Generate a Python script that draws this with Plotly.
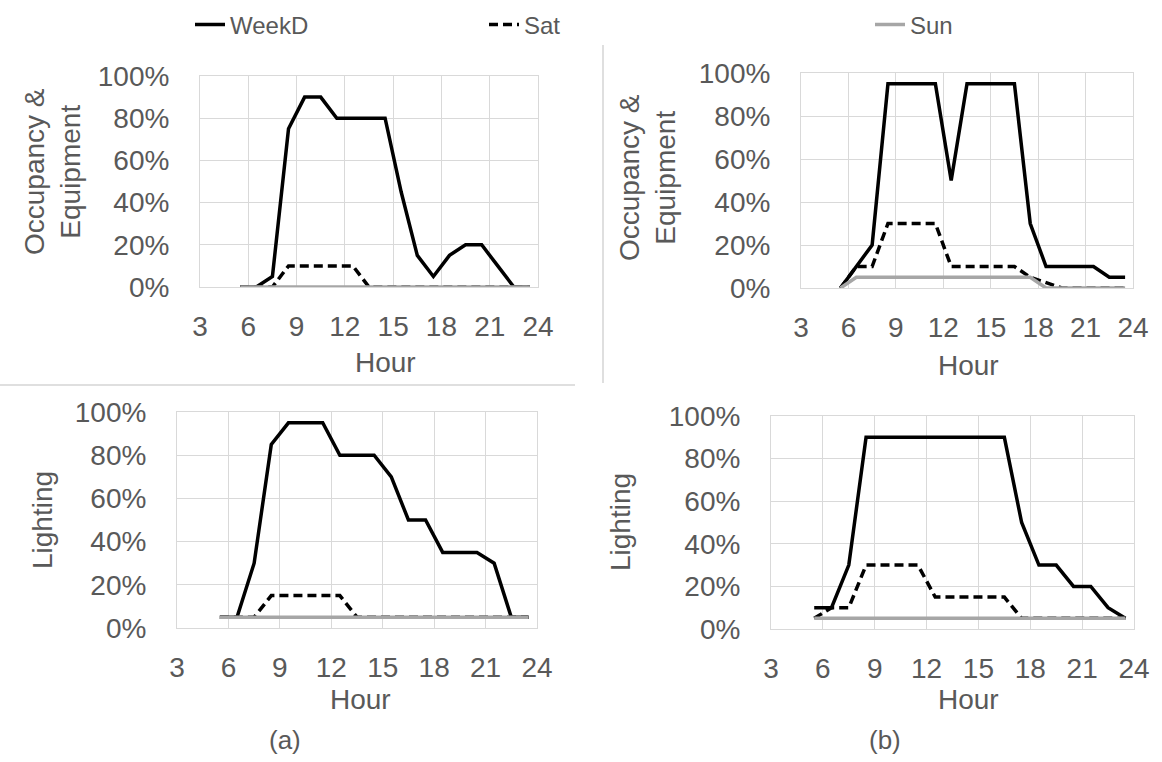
import plotly.graph_objects as go

# ---------------- data ----------------
HOURS = list(range(6, 25))            # hourly schedule values, hours 6..24
X_TICKS = [3, 6, 9, 12, 15, 18, 21, 24]
Y_TICKS = [0, 20, 40, 60, 80, 100]
Y_TICKTEXT = ["0%", "20%", "40%", "60%", "80%", "100%"]
SERIES = ["WeekD", "Sat", "Sun"]

# (a) Occupancy & Equipment
occ_a_weekd = [0, 0, 5, 75, 90, 90, 80, 80, 80, 80, 45, 15, 5, 15, 20, 20, 10, 0, 0]
occ_a_sat   = [0, 0, 0, 10, 10, 10, 10, 10, 0, 0, 0, 0, 0, 0, 0, 0, 0, 0, 0]
occ_a_sun   = [0, 0, 0, 0, 0, 0, 0, 0, 0, 0, 0, 0, 0, 0, 0, 0, 0, 0, 0]

# (b) Occupancy & Equipment
occ_b_weekd = [0, 10, 20, 95, 95, 95, 95, 50, 95, 95, 95, 95, 30, 10, 10, 10, 10, 5, 5]
occ_b_sat   = [0, 10, 10, 30, 30, 30, 30, 10, 10, 10, 10, 10, 5, 2.5, 0, 0, 0, 0, 0]
occ_b_sun   = [0, 5, 5, 5, 5, 5, 5, 5, 5, 5, 5, 5, 5, 0, 0, 0, 0, 0, 0]

# (a) Lighting
lig_a_weekd = [5, 5, 30, 85, 95, 95, 95, 80, 80, 80, 70, 50, 50, 35, 35, 35, 30, 5, 5]
lig_a_sat   = [5, 5, 5, 15, 15, 15, 15, 15, 5, 5, 5, 5, 5, 5, 5, 5, 5, 5, 5]
lig_a_sun   = [5, 5, 5, 5, 5, 5, 5, 5, 5, 5, 5, 5, 5, 5, 5, 5, 5, 5, 5]

# (b) Lighting
lig_b_weekd = [10, 10, 30, 90, 90, 90, 90, 90, 90, 90, 90, 90, 50, 30, 30, 20, 20, 10, 5]
lig_b_sat   = [5, 10, 10, 30, 30, 30, 30, 15, 15, 15, 15, 15, 5, 5, 5, 5, 5, 5, 5]
lig_b_sun   = [5, 5, 5, 5, 5, 5, 5, 5, 5, 5, 5, 5, 5, 5, 5, 5, 5, 5, 5]

# ---------------- styling ----------------
W, H = 1162, 762
TXT = "#595959"
GRID = "#d9d9d9"
FONT = "Liberation Sans, Arial, sans-serif"
NARROW = "Liberation Sans Narrow, Arial Narrow, Liberation Sans, Arial, sans-serif"
FS = 28

STYLE = {
    "WeekD": dict(color="#000000", width=3.5, dash="solid"),
    "Sat": dict(color="#000000", width=3.5, dash="9px,5px"),
    "Sun": dict(color="#a6a6a6", width=3.5, dash="solid"),
}

# Excel category axis: each hourly value is centred in its hour slot
xpos = [h - 0.5 for h in HOURS]

# panel boxes in pixels: (left, right, top, bottom)
panels = [
    ("x", "y", (200, 538, 76, 287), [occ_a_weekd, occ_a_sat, occ_a_sun]),
    ("x2", "y2", (801, 1133, 73, 288), [occ_b_weekd, occ_b_sat, occ_b_sun]),
    ("x3", "y3", (177, 537, 412, 628), [lig_a_weekd, lig_a_sat, lig_a_sun]),
    ("x4", "y4", (771, 1134, 416, 629), [lig_b_weekd, lig_b_sat, lig_b_sun]),
]

fig = go.Figure()
layout = {}
legends = ["legend", "legend2", "legend3"]
for pi, (xa, ya, (l, r, t, b), vals) in enumerate(panels):
    for si, name in enumerate(SERIES):
        fig.add_trace(go.Scatter(
            x=xpos, y=vals[si], mode="lines", name=name,
            line=STYLE[name], xaxis=xa, yaxis=ya, cliponaxis=False,
            showlegend=(pi == 0), legend=legends[si],
        ))
    xkey = "xaxis" if xa == "x" else "xaxis" + xa[1:]
    ykey = "yaxis" if ya == "y" else "yaxis" + ya[1:]
    layout[xkey] = dict(
        domain=[l / W, r / W], anchor=ya, range=[3, 24], tickvals=X_TICKS,
        showgrid=True, gridcolor=GRID, gridwidth=1, zeroline=False,
        showline=True, mirror=True, linecolor=GRID, linewidth=1, ticks="",
        tickfont=dict(size=FS, color=TXT, family=FONT), ticklabelstandoff=14,
        fixedrange=True, automargin=False,
    )
    layout[ykey] = dict(
        domain=[1 - b / H, 1 - t / H], anchor=xa, range=[0, 100],
        tickvals=Y_TICKS, ticktext=Y_TICKTEXT,
        showgrid=True, gridcolor=GRID, gridwidth=1, zeroline=False,
        showline=True, mirror=True, linecolor=GRID, linewidth=1, ticks="",
        tickfont=dict(size=FS, color=TXT, family=FONT), ticklabelstandoff=24,
        fixedrange=True, automargin=False,
    )

fig.update_layout(**layout)

def px_x(v):
    return v / W

def px_y(v):
    return 1 - v / H

annotations = []
def add_text(text, x, y, size=FS, angle=0, family=FONT):
    annotations.append(dict(
        text=text, x=px_x(x), y=px_y(y), xref="paper", yref="paper",
        showarrow=False, textangle=angle, xanchor="center", yanchor="middle",
        font=dict(size=size, color=TXT, family=family),
    ))

add_text("Occupancy &<br>Equipment", 53, 172, angle=-90)
add_text("Occupancy &<br>Equipment", 648, 178, angle=-90)
add_text("Lighting", 42, 520, angle=-90)
add_text("Lighting", 620, 522, angle=-90)
add_text("Hour", 385, 362)
add_text("Hour", 968, 365)
add_text("Hour", 360, 699)
add_text("Hour", 968, 699)
add_text("(a)", 285, 740, size=26, family=NARROW)
add_text("(b)", 885, 740, size=26, family=NARROW)

shapes = [
    dict(type="line", xref="paper", yref="paper", x0=px_x(603), x1=px_x(603),
         y0=px_y(45), y1=px_y(383), line=dict(color="#bfbfbf", width=1)),
    dict(type="line", xref="paper", yref="paper", x0=px_x(0), x1=px_x(575),
         y0=px_y(385), y1=px_y(385), line=dict(color="#bfbfbf", width=1)),
]

leg_common = dict(orientation="h", yanchor="middle", xanchor="left",
                  bgcolor="rgba(0,0,0,0)", borderwidth=0,
                  font=dict(size=24, color=TXT, family=NARROW), itemwidth=30)
fig.update_layout(
    width=W, height=H,
    margin=dict(l=0, r=0, t=0, b=0, pad=0, autoexpand=False),
    paper_bgcolor="white", plot_bgcolor="white",
    annotations=annotations, shapes=shapes,
    legend=dict(x=px_x(190), y=px_y(25), **leg_common),
    legend2=dict(x=px_x(484), y=px_y(25), **leg_common),
    legend3=dict(x=px_x(870), y=px_y(25), **leg_common),
)

fig.write_html("out.html",
               config={"displayModeBar": False},
               post_script="document.body.style.margin='0';document.body.style.padding='0';")
